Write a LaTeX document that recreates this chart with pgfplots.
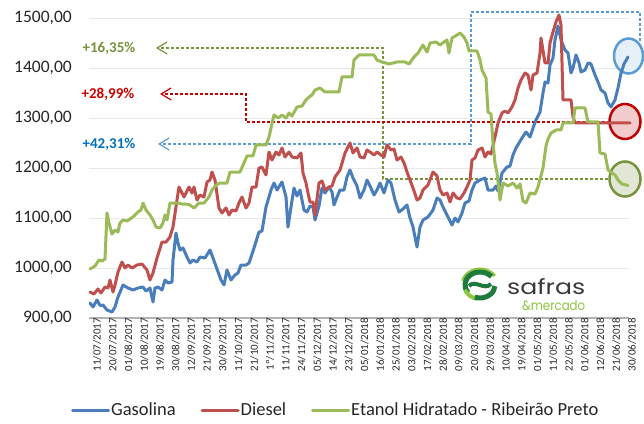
\documentclass[border=0pt]{standalone}
\usepackage{fontspec}
\setmainfont{Carlito}
\newfontfamily\logofont{Poppins}
\usepackage{graphicx}
\usepackage{pgfplots}
\pgfplotsset{compat=1.18}
\usetikzlibrary{arrows.meta}
\definecolor{gasblue}{HTML}{4A7EBB}
\definecolor{dieselred}{HTML}{C0504D}
\definecolor{etagreen}{HTML}{9BBB59}
\definecolor{pctgreen}{HTML}{77933C}
\definecolor{pctred}{HTML}{D00000}
\definecolor{pctblue}{HTML}{0070C0}
\definecolor{dashblue}{HTML}{5B9BD5}
\definecolor{dashred}{HTML}{C00000}
\definecolor{dashgreen}{HTML}{77933C}
\definecolor{safdark}{HTML}{1E7B3C}
\definecolor{saflight}{HTML}{8DC63F}
\definecolor{saftext}{HTML}{3A3A3A}
\begin{document}
\begin{tikzpicture}
\path[use as bounding box] (-89pt,-105pt) rectangle (555pt,318pt);
\begin{axis}[
  scale only axis, width=540pt, height=300pt,
  xmin=89, xmax=629, ymin=900, ymax=1500,
  clip=false,
  axis lines=left,
  axis line style={-},
  y axis line style={draw=none},
  x axis line style={draw=black!30, line width=1.2pt},
  major tick length=0pt,
  ymajorgrids, grid style={draw=black!9, line width=0.9pt},
  ytick={900,1000,...,1500},
  yticklabel style={/pgf/number format/fixed, /pgf/number format/fixed zerofill, /pgf/number format/precision=2, /pgf/number format/use comma, /pgf/number format/1000 sep={}, /pgf/number format/assume math mode=true,
    anchor=east, inner sep=0pt, xshift=-17pt, text=black!85, font=\fontsize{17.5}{19}\selectfont},
  xtick={90,105.735,...,626},
  xticklabels={11/07/2017,20/07/2017,01/08/2017,10/08/2017,19/08/2017,30/08/2017,12/09/2017,21/09/2017,30/09/2017,11/10/2017,21/10/2017,1º/11/2017,11/11/2017,24/11/2017,05/12/2017,14/12/2017,23/12/2017,05/01/2018,16/01/2018,25/01/2018,03/02/2018,17/02/2018,28/02/2018,09/03/2018,20/03/2018,29/03/2018,10/04/2018,19/04/2018,01/05/2018,11/05/2018,22/05/2018,01/06/2018,12/06/2018,21/06/2018,30/06/2018},
  xticklabel style={rotate=90, anchor=east, inner sep=0pt, yshift=-7pt, text=black!85, font=\fontsize{11}{12}\selectfont},
  legend columns=3,
  legend style={at={(axis description cs:0.456,-0.307)}, anchor=center, draw=none, fill=none,
    font=\fontsize{18.5}{20}\selectfont, text=black!85,
    nodes={inner sep=1pt},
    /tikz/every even column/.append style={column sep=24pt}},
  legend image code/.code={\draw[#1, line width=3pt] (0pt,0pt) -- (36pt,0pt);},
  every axis plot/.append style={line width=3pt, line join=round, line cap=round},
]
% annotations
\draw[dashgreen, line width=1.2pt, dash pattern=on 3pt off 2pt, -{Straight Barb[length=10pt,width=12pt]}]
  (axis cs:608,1178) -- (axis cs:383,1178) -- (axis cs:383,1440) -- (axis cs:156,1440);
\draw[dashred, line width=1.2pt, dash pattern=on 3pt off 2pt, -{Straight Barb[length=10pt,width=12pt]}]
  (axis cs:610,1292) -- (axis cs:246,1292) -- (axis cs:246,1348) -- (axis cs:160,1348);
\draw[dashblue, line width=1.2pt, dash pattern=on 3pt off 2pt, -{Straight Barb[length=10pt,width=12pt]}]
  (axis cs:640,1454) -- (axis cs:640,1512) -- (axis cs:471,1512) -- (axis cs:471,1248) -- (axis cs:158,1248);
\draw[dashblue, line width=2.5pt, fill=dashblue!15] (axis cs:628.5,1424) ellipse [x radius=14.5pt, y radius=17.5pt];
\draw[dashred, line width=2.5pt, fill=dashred!20] (axis cs:625,1293) ellipse [x radius=15.5pt, y radius=17.5pt];
\draw[pctgreen, line width=2.5pt, fill=pctgreen!22] (axis cs:625,1178) ellipse [x radius=15.5pt, y radius=17.5pt];
\node[text=pctgreen, font=\bfseries\fontsize{15}{17}\selectfont] at (axis cs:109,1440) {+16,35\%};
\node[text=pctred, font=\bfseries\fontsize{15}{17}\selectfont] at (axis cs:108,1348) {+28,99\%};
\node[text=pctblue, font=\bfseries\fontsize{15}{17}\selectfont] at (axis cs:109,1248) {+42,31\%};
% logo
\begin{scope}[shift={(axis cs:480,966)}]
  \draw[saflight, line width=3pt] (35:18pt and 16pt) arc[start angle=35, end angle=165, x radius=18pt, y radius=16pt];
  \draw[safdark, line width=5pt] (40:15pt and 13pt) arc[start angle=40, end angle=215, x radius=15pt, y radius=13pt];
  \draw[saflight, line width=4pt] (200:16pt and 14pt) arc[start angle=200, end angle=260, x radius=16pt, y radius=14pt];
  \draw[safdark, line width=5pt] (250:15pt and 13pt) arc[start angle=250, end angle=355, x radius=15pt, y radius=13pt];
  \draw[safdark, line width=4pt] (-11pt,-1pt) .. controls (-5pt,6pt) and (4pt,-6pt) .. (11pt,1pt);
\end{scope}
\node[inner sep=0pt, anchor=base west, text=saftext] at (axis cs:507,948) {\resizebox{78pt}{16pt}{\logofont safras}};
\node[inner sep=0pt, anchor=base west, text=saflight] at (axis cs:522,916) {\resizebox{63pt}{10pt}{\logofont\&mercado}};
% data
\addplot[gasblue] coordinates {
(90,930) (93,922) (97,936) (100,925) (103,926) (107,916) (112,912) (115,922) (118,942) (123,966)
(128,960) (133,956) (138,960) (143,962) (146,954) (150,960) (153,932) (155,960) (158,962) (162,956)
(165,976) (168,970) (172,972) (173,1016) (176,1070) (178,1050) (180,1036) (183,1040) (187,1022) (190,1010)
(193,1016) (197,1012) (200,1022) (205,1020) (210,1036) (213,1020) (217,998) (221,976) (224,966) (227,996)
(231,976) (235,986) (238,990) (241,1006) (246,1006) (249,1010) (254,1040) (259,1072) (262,1074) (266,1122)
(271,1156) (274,1170) (277,1156) (282,1172) (286,1142) (288,1082) (291,1122) (294,1160) (297,1144) (300,1156)
(304,1116) (307,1112) (310,1124) (313,1122) (315,1096) (319,1124) (322,1160) (325,1150) (329,1162) (332,1152)
(334,1126) (337,1142) (340,1156) (344,1156) (347,1182) (350,1196) (353,1180) (357,1164) (360,1140) (364,1156)
(367,1176) (370,1164) (374,1146) (377,1156) (380,1170) (384,1150) (388,1176) (391,1170) (395,1136) (399,1112)
(403,1118) (407,1126) (410,1100) (413,1082) (417,1042) (420,1082) (423,1096) (428,1102) (433,1116) (437,1140)
(440,1136) (443,1122) (448,1102) (452,1086) (455,1100) (458,1092) (462,1110) (465,1130) (469,1134) (472,1156)
(475,1170) (480,1176) (485,1180) (488,1156) (493,1156) (496,1164) (498,1154) (502,1190) (507,1202) (510,1204)
(513,1226) (516,1240) (522,1260) (526,1272) (530,1262) (533,1280) (536,1296) (540,1312) (543,1350) (545,1372)
(548,1370) (550,1406) (553,1420) (555,1456) (558,1484) (561,1456) (565,1436) (568,1430) (571,1390) (573,1400)
(576,1426) (579,1410) (581,1392) (585,1396) (588,1410) (591,1408) (595,1386) (598,1372) (601,1356) (605,1350)
(608,1330) (611,1322) (615,1336) (618,1360) (621,1390) (624,1408) (628,1422)
};
\addlegendentry{Gasolina}
\addplot[dieselred] coordinates {
(90,952) (94,948) (98,958) (101,950) (105,962) (108,960) (110,976) (113,952) (115,966) (118,992)
(122,1012) (125,1000) (128,1006) (132,1000) (137,1006) (142,1008) (147,996) (150,976) (153,990) (157,1020)
(162,1052) (166,1052) (170,1062) (173,1082) (177,1136) (179,1162) (184,1142) (189,1162) (192,1150) (194,1162)
(197,1136) (200,1146) (204,1142) (207,1172) (210,1176) (212,1192) (215,1176) (219,1120) (222,1110) (226,1120)
(229,1106) (232,1116) (236,1114) (239,1130) (242,1142) (246,1120) (249,1130) (252,1162) (256,1162) (259,1200)
(262,1202) (266,1186) (269,1232) (272,1216) (276,1232) (279,1226) (282,1240) (285,1222) (289,1232) (292,1222)
(297,1220) (301,1230) (303,1190) (306,1170) (308,1150) (310,1132) (313,1132) (315,1106) (319,1170) (322,1174)
(325,1156) (329,1162) (332,1164) (335,1182) (340,1196) (345,1230) (350,1250) (353,1230) (357,1240) (360,1222)
(364,1220) (367,1236) (370,1232) (374,1226) (377,1232) (381,1226) (384,1222) (387,1246) (391,1236) (394,1238)
(397,1216) (401,1222) (404,1210) (407,1192) (410,1176) (413,1160) (417,1136) (420,1140) (423,1156) (428,1166)
(433,1192) (437,1184) (440,1156) (443,1146) (447,1150) (450,1132) (453,1150) (457,1140) (460,1138) (464,1150)
(467,1162) (470,1176) (472,1216) (475,1220) (478,1236) (482,1240) (485,1222) (488,1232) (491,1228) (495,1262)
(498,1290) (502,1310) (505,1314) (508,1310) (512,1322) (515,1336) (518,1360) (521,1376) (525,1390) (528,1386)
(531,1356) (533,1386) (537,1390) (540,1430) (541,1460) (545,1410) (548,1410) (550,1450) (553,1472) (556,1492)
(559,1506) (561,1486) (563,1336) (571,1336) (573,1302) (575,1290) (630,1290)
};
\addlegendentry{Diesel}
\addplot[etagreen] coordinates {
(90,998) (95,1004) (99,1016) (102,1014) (105,1018) (107,1110) (109,1090) (112,1068) (115,1076) (118,1072)
(120,1090) (123,1096) (127,1094) (130,1098) (134,1104) (138,1112) (141,1116) (143,1130) (146,1116) (150,1106)
(153,1096) (156,1082) (160,1080) (163,1090) (165,1106) (167,1096) (170,1130) (174,1130) (178,1130) (182,1128)
(186,1128) (190,1126) (194,1120) (199,1130) (204,1130) (209,1142) (212,1156) (216,1166) (220,1170) (227,1170)
(230,1192) (240,1192) (244,1210) (247,1224) (253,1224) (256,1246) (266,1246) (269,1262) (274,1306) (278,1300)
(282,1306) (286,1300) (289,1310) (292,1304) (297,1322) (302,1324) (306,1336) (309,1342) (312,1346) (315,1356)
(320,1360) (325,1352) (339,1352) (342,1382) (352,1382) (354,1416) (359,1426) (374,1426) (377,1416) (382,1412)
(389,1408) (397,1412) (405,1412) (409,1408) (414,1422) (418,1430) (423,1446) (427,1432) (430,1450) (436,1452)
(440,1446) (444,1452) (447,1456) (449,1430) (452,1460) (457,1466) (460,1470) (464,1462) (467,1450) (469,1434)
(477,1434) (480,1416) (482,1396) (486,1380) (488,1312) (491,1308) (493,1250) (495,1210) (497,1190) (500,1136)
(503,1170) (508,1164) (513,1170) (517,1160) (520,1168) (523,1134) (526,1130) (530,1150) (535,1148) (538,1162)
(543,1200) (546,1244) (548,1258) (551,1270) (556,1276) (561,1276) (563,1290) (573,1290) (575,1320) (585,1320)
(588,1292) (598,1292) (600,1230) (605,1228) (608,1196) (612,1190) (615,1186) (618,1176) (622,1168) (628,1165)
};
\addlegendentry{Etanol Hidratado - Ribeirão Preto}
\end{axis}
\end{tikzpicture}
\end{document}
